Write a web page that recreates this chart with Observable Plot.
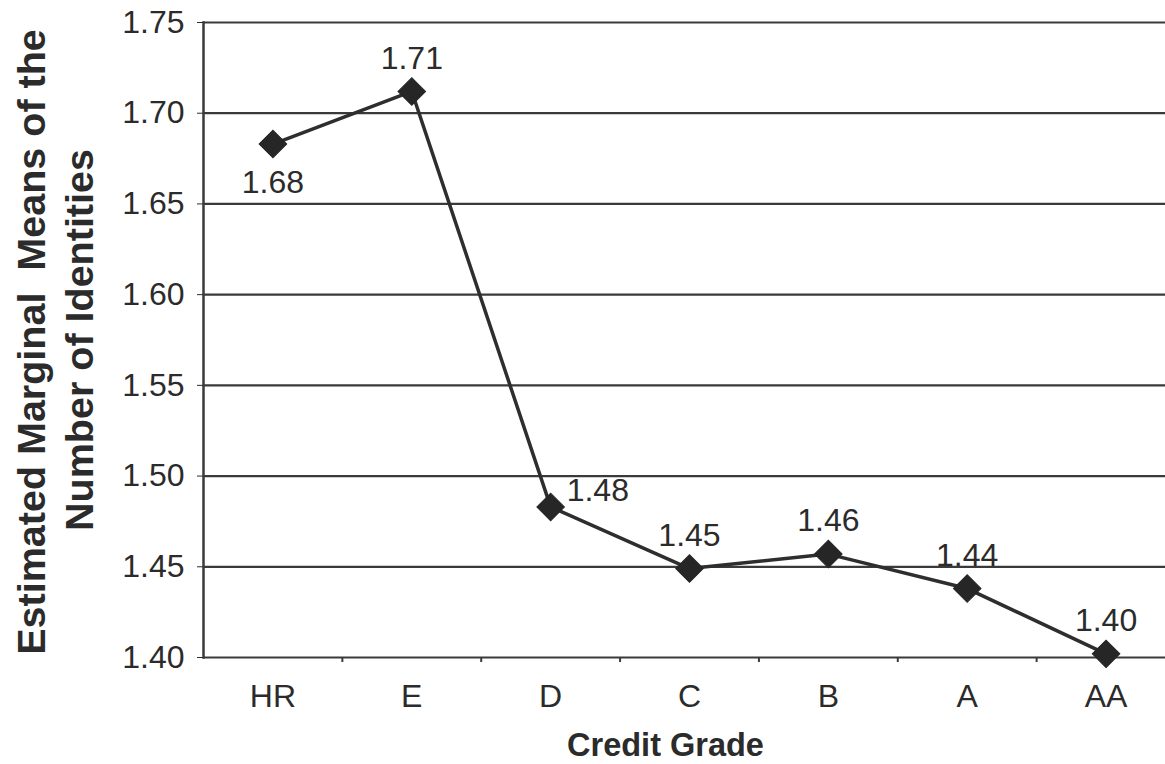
<!DOCTYPE html>
<html>
<head>
<meta charset="utf-8">
<script src="https://cdn.jsdelivr.net/npm/d3@7"></script>
<script src="https://cdn.jsdelivr.net/npm/@observablehq/plot@0.6"></script>
<style>
  html, body { margin: 0; padding: 0; background: #fff; }
  #chart svg { display: block; }
</style>
</head>
<body>
<div id="chart"></div>
<script>
const grades = ["HR", "E", "D", "C", "B", "A", "AA"];
const means = [1.683, 1.712, 1.483, 1.449, 1.457, 1.438, 1.402];
const valueLabels = ["1.68", "1.71", "1.48", "1.45", "1.46", "1.44", "1.40"];
const yTicks = [1.40, 1.45, 1.50, 1.55, 1.60, 1.65, 1.70, 1.75];
const yTitleLines = ["Estimated Marginal  Means of the", "Number of Identities"];
const xTitle = "Credit Grade";

const data = grades.map((g, i) => ({i, grade: g, value: means[i], label: valueLabels[i]}));
const below = data.filter(d => d.grade === "HR");
const right = data.filter(d => d.grade === "D");
const above = data.filter(d => d.grade !== "HR" && d.grade !== "D");
const idx = grades.map((g, i) => i);
const bounds = grades.slice(1).map((g, i) => i + 0.5);

const ink = "#2b2b2b";
const font = "'Liberation Sans', Arial, Helvetica, sans-serif";

const chart = Plot.plot({
  width: 1165,
  height: 764,
  marginLeft: 203,
  marginRight: 0,
  marginTop: 22,
  marginBottom: 107,
  style: {fontFamily: font, fontSize: "32px", color: ink, background: "#fff"},
  x: {type: "linear", domain: [-0.5, grades.length - 0.5], range: [203, 1175]},
  y: {domain: [1.40, 1.75]},
  marks: [
    Plot.ruleY(yTicks, {stroke: "#3a3a3a", strokeWidth: 2.2}),
    Plot.frame({anchor: "left", stroke: "#3a3a3a", strokeWidth: 2.5}),
    Plot.axisY({ticks: yTicks, tickFormat: d => d.toFixed(2), tickSize: 6, tickPadding: 13, label: null, fill: ink, fontSize: 32, stroke: ink}),
    Plot.axisX({ticks: idx, tickFormat: i => grades[i], tickSize: 0, tickPadding: 27, label: null, fill: ink, fontSize: 32}),
    Plot.axisX({ticks: bounds, tickFormat: () => "", tickSize: 5, label: null, stroke: "#3a3a3a", strokeWidth: 2}),
    Plot.line(data, {x: "i", y: "value", stroke: "#2e2e2e", strokeWidth: 3.5}),
    Plot.dot(data, {x: "i", y: "value", symbol: "square", rotate: 45, r: 11, fill: "#262626", stroke: "#262626", strokeWidth: 1}),
    Plot.text(above, {x: "i", y: "value", text: "label", dy: -33, fill: ink, fontSize: 32}),
    Plot.text(below, {x: "i", y: "value", text: "label", dy: 39, fill: ink, fontSize: 32}),
    Plot.text(right, {x: "i", y: "value", text: "label", dx: 16, dy: -16, textAnchor: "start", fill: ink, fontSize: 32}),
    Plot.text([yTitleLines[0]], {frameAnchor: "left", dx: -171, dy: 2, rotate: -90, textAnchor: "middle", lineAnchor: "middle", fontWeight: "bold", fontSize: 39.5, fill: ink}),
    Plot.text([yTitleLines[1]], {frameAnchor: "left", dx: -123, dy: 0, rotate: -90, textAnchor: "middle", lineAnchor: "middle", fontWeight: "bold", fontSize: 39.5, fill: ink}),
    Plot.text([xTitle], {frameAnchor: "bottom", dy: 88, dx: -19, textAnchor: "middle", lineAnchor: "middle", fontWeight: "bold", fontSize: 32.5, fill: ink})
  ]
});
document.getElementById("chart").appendChild(chart);
</script>
</body>
</html>
